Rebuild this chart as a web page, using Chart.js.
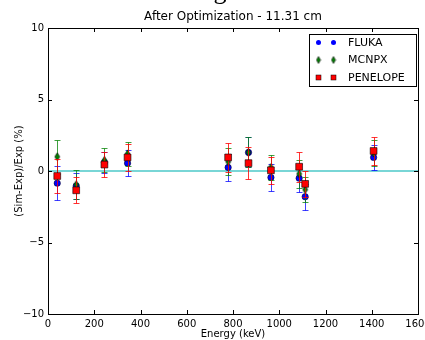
<!DOCTYPE html>
<html>
<head>
<meta charset="utf-8">
<script src="https://cdn.jsdelivr.net/npm/chart.js@4.4.1/dist/chart.umd.min.js"></script>
<style>
  html, body { margin: 0; padding: 0; background: #fff; }
  #wrap { width: 425px; height: 340px; }
</style>
</head>
<body>
<div id="wrap"><canvas id="chart" width="425" height="340"></canvas></div>
<script>
// Gamma line energies (keV)
var energies = [40, 122, 244, 344, 779, 867, 964, 1086, 1112, 1408];

// (Sim-Exp)/Exp in % and the error bar half widths
var fluka = [-0.85, -1.05, 0.6, 0.55, 0.25, 1.3, -0.45, -0.5, -1.8, 0.95];
var flukaErr = [1.2, 0.9, 0.75, 0.9, 0.95, 1.05, 0.95, 1.0, 0.9, 0.9];
var mcnpx = [1.0, -0.95, 0.75, 1.2, 0.65, 1.3, 0.25, -0.2, -1.3, 1.25];
var mcnpxErr = [1.2, 1.0, 0.85, 0.85, 0.95, 1.05, 0.85, 1.0, 0.9, 0.9];
var penelope = [-0.35, -1.35, 0.45, 0.95, 0.95, 0.55, 0.05, 0.3, -0.9, 1.4];
var penelopeErr = [1.2, 0.9, 0.9, 0.95, 1.0, 1.1, 0.95, 1.05, 0.9, 0.95];

// Reference line at zero
var zeroX = [0, 1600];
var zeroY = [0, 0];

var xTicks = [0, 200, 400, 600, 800, 1000, 1200, 1400, 1600];
var yTicks = [-10, -5, 0, 5, 10];

Chart.defaults.font.family = "'DejaVu Sans', sans-serif";
Chart.defaults.color = '#000';

function toPoints(xs, ys) {
    return xs.map(function (x, i) { return {x: x, y: ys[i]}; });
}

// thin diamond marker like matplotlib 'd'
function thinDiamond(w, h) {
    var c = document.createElement('canvas');
    c.width = w + 2; c.height = h + 2;
    var g = c.getContext('2d');
    g.beginPath();
    g.moveTo(c.width / 2, 1);
    g.lineTo(c.width - 1, c.height / 2);
    g.lineTo(c.width / 2, c.height - 1);
    g.lineTo(1, c.height / 2);
    g.closePath();
    g.fillStyle = '#008000';
    g.fill();
    g.lineWidth = 0.6;
    g.strokeStyle = '#000';
    g.stroke();
    return c;
}

var diamond = thinDiamond(5, 8);
var diamondSmall = thinDiamond(4, 7);

// error bars drawn just before each dataset's markers
var errorBars = {
    id: 'errorBars',
    beforeDatasetDraw: function (chart, args) {
        var ds = chart.data.datasets[args.index];
        if (!ds.errors) return;
        var xs = chart.scales.x, ys = chart.scales.y, ctx = chart.ctx;
        ctx.save();
        ctx.strokeStyle = ds.errColor;
        ctx.lineWidth = 1;
        ds.data.forEach(function (p, i) {
            var px = Math.round(xs.getPixelForValue(p.x)) + 0.5;
            var top = Math.round(ys.getPixelForValue(p.y + ds.errors[i])) + 0.5;
            var bot = Math.round(ys.getPixelForValue(p.y - ds.errors[i])) + 0.5;
            ctx.beginPath();
            ctx.moveTo(px, top); ctx.lineTo(px, bot);
            ctx.moveTo(px - 3, top); ctx.lineTo(px + 3, top);
            ctx.moveTo(px - 3, bot); ctx.lineTo(px + 3, bot);
            ctx.stroke();
        });
        ctx.restore();
    }
};

// frame, inward ticks, legend box and the clipped heading glyph
var frame = {
    id: 'frame',
    afterDraw: function (chart) {
        var a = chart.chartArea, ctx = chart.ctx;
        var xs = chart.scales.x, ys = chart.scales.y;
        ctx.save();
        ctx.strokeStyle = '#000';
        ctx.lineWidth = 1;
        ctx.beginPath();
        xTicks.forEach(function (v) {
            var px = Math.round(xs.getPixelForValue(v)) + 0.5;
            ctx.moveTo(px, a.bottom); ctx.lineTo(px, a.bottom - 4);
            ctx.moveTo(px, a.top); ctx.lineTo(px, a.top + 4);
        });
        yTicks.forEach(function (v) {
            var py = Math.round(ys.getPixelForValue(v)) + 0.5;
            ctx.moveTo(a.left, py); ctx.lineTo(a.left + 4, py);
            ctx.moveTo(a.right, py); ctx.lineTo(a.right - 4, py);
        });
        ctx.stroke();
        ctx.strokeRect(Math.round(a.left) + 0.5, Math.round(a.top) + 0.5,
            Math.round(a.right - a.left), Math.round(a.bottom - a.top));

        // legend
        var lx = 309.5, ly = 34.5, lw = 107, lh = 52;
        ctx.fillStyle = '#fff';
        ctx.fillRect(lx, ly, lw, lh);
        ctx.strokeRect(lx, ly, lw, lh);
        var names = ['FLUKA', 'MCNPX', 'PENELOPE'];
        var rows = [42.5, 60, 77.5];
        ctx.font = "11px 'DejaVu Sans'";
        ctx.textBaseline = 'middle';
        names.forEach(function (n, i) {
            [318.5, 333.5].forEach(function (mx) {
                if (i === 0) {
                    ctx.beginPath();
                    ctx.arc(mx, rows[i], 2.5, 0, Math.PI * 2);
                    ctx.fillStyle = '#0000ff';
                    ctx.fill();
                } else if (i === 1) {
                    ctx.drawImage(diamondSmall, mx - diamondSmall.width / 2, rows[i] - diamondSmall.height / 2);
                } else {
                    ctx.fillStyle = '#ff0000';
                    ctx.fillRect(mx - 2.5, rows[i] - 2.5, 5, 5);
                    ctx.lineWidth = 0.5;
                    ctx.strokeRect(mx - 2.5, rows[i] - 2.5, 5, 5);
                    ctx.lineWidth = 1;
                }
            });
            ctx.fillStyle = '#000';
            ctx.fillText(n, 348, rows[i] + 0.5);
        });

        // descender of a heading above the figure, cut by the crop
        ctx.font = "26px 'Liberation Serif'";
        ctx.textBaseline = 'alphabetic';
        ctx.textAlign = 'center';
        ctx.fillText('g', 220, -1);
        ctx.restore();
    }
};

var ctx = document.getElementById('chart').getContext('2d');

var chart = new Chart(ctx, {
    type: 'scatter',
    data: {
        datasets: [{
            label: 'PENELOPE',
            data: toPoints(energies, penelope),
            errors: penelopeErr,
            errColor: 'rgba(255, 0, 0, 0.8)',
            pointStyle: 'rect',
            pointRadius: 4.8,
            backgroundColor: '#ff0000',
            borderColor: '#000',
            borderWidth: 0.6,
            order: 0
        }, {
            label: 'MCNPX',
            data: toPoints(energies, mcnpx),
            errors: mcnpxErr,
            errColor: 'rgba(0, 128, 0, 0.75)',
            pointStyle: diamond,
            order: 1
        }, {
            label: 'FLUKA',
            data: toPoints(energies, fluka),
            errors: flukaErr,
            errColor: 'rgba(0, 0, 255, 0.75)',
            pointStyle: 'circle',
            pointRadius: 3.2,
            backgroundColor: '#0000ff',
            borderColor: '#000',
            borderWidth: 0.5,
            order: 2
        }, {
            type: 'line',
            label: 'zero',
            data: toPoints(zeroX, zeroY),
            borderColor: '#4cc8c8',
            borderWidth: 1.5,
            pointRadius: 0,
            order: 3
        }]
    },
    options: {
        responsive: false,
        animation: false,
        events: [],
        layout: {padding: {left: 0, right: 7, top: 0, bottom: 0}},
        plugins: {
            legend: {display: false},
            tooltip: {enabled: false},
            title: {
                display: true,
                text: 'After Optimization - 11.31 cm',
                fullSize: false,
                font: {size: 12, weight: 'normal'},
                padding: {top: 10, bottom: 3.6}
            }
        },
        scales: {
            x: {
                type: 'linear',
                min: 0,
                max: 1600,
                grid: {display: false, drawTicks: false},
                border: {display: false},
                ticks: {
                    stepSize: 200,
                    padding: 4,
                    font: {size: 10},
                    maxRotation: 0,
                    callback: function (v) { return String(v); }
                },
                title: {display: true, text: 'Energy (keV)', font: {size: 10}, padding: {top: 0, bottom: 0}},
                afterFit: function (s) { s.height = 26; s.paddingLeft = 0; s.paddingRight = 0; }
            },
            y: {
                min: -10,
                max: 10,
                grid: {display: false, drawTicks: false},
                border: {display: false},
                ticks: {
                    stepSize: 5,
                    padding: 4,
                    font: {size: 10},
                    callback: function (v) { return String(v).replace('-', '\u2212'); }
                },
                title: {display: true, text: '(Sim-Exp)/Exp (%)', font: {size: 10}, padding: {top: 13, bottom: 0}},
                afterFit: function (s) { s.width = 48; }
            }
        }
    },
    plugins: [errorBars, frame]
});
</script>
</body>
</html>
